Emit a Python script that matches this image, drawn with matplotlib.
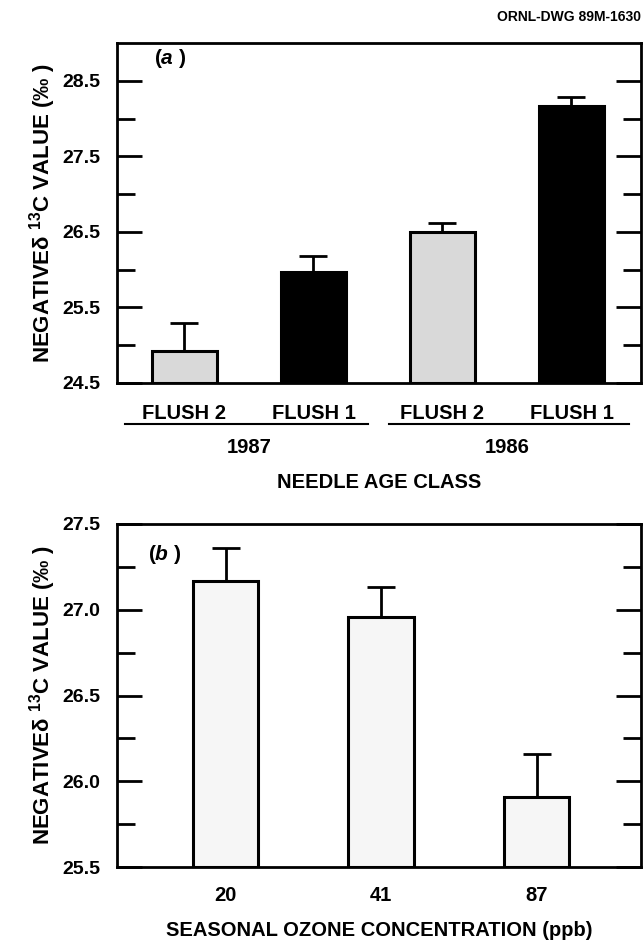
import numpy as np
import matplotlib
matplotlib.use('Agg')
import matplotlib.pyplot as plt
import matplotlib.transforms as mtransforms

# panel (a) data
age_classes = ['FLUSH 2', 'FLUSH 1', 'FLUSH 2', 'FLUSH 1']
years = ['1987', '1986']
d13c_a = [24.92, 25.97, 26.50, 28.17]
err_a = [0.37, 0.21, 0.12, 0.12]
colors_a = ['#d9d9d9', 'black', '#d9d9d9', 'black']

# panel (b) data
ozone = ['20', '41', '87']
d13c_b = [27.17, 26.96, 25.91]
err_b = [0.19, 0.17, 0.25]

plt.rcParams['font.family'] = ['Liberation Sans', 'DejaVu Sans']
plt.rcParams['font.weight'] = 'bold'
plt.rcParams['axes.labelweight'] = 'bold'
plt.rcParams['mathtext.fontset'] = 'custom'
plt.rcParams['mathtext.rm'] = 'Liberation Sans:bold'
plt.rcParams['mathtext.it'] = 'Liberation Sans:italic:bold'
plt.rcParams['mathtext.bf'] = 'Liberation Sans:bold'
plt.rcParams['mathtext.default'] = 'rm'

fig = plt.figure(figsize=(6.43, 9.41), dpi=100)
W, H = 643, 941
ax1 = fig.add_axes([117 / W, 1 - 383 / H, 524 / W, 340 / H])
ax2 = fig.add_axes([117 / W, 1 - 867 / H, 524 / W, 343 / H])

ylab = r'NEGATIVEδ $^{13}$C VALUE (‰ )'


def style_axes(ax):
    for s in ax.spines.values():
        s.set_linewidth(2)
    ax.tick_params(axis='y', which='both', direction='in', left=True, right=True,
                   width=2, labelsize=14, pad=12)
    ax.tick_params(axis='y', which='major', length=18)
    ax.tick_params(axis='y', which='minor', length=13)
    ax.tick_params(axis='x', length=0, labelsize=14.5)
    ax.set_ylabel(ylab, fontsize=16, fontweight='bold', labelpad=3)


# ---- (a)
xa = np.arange(len(d13c_a))
vals = np.array(d13c_a)
ax1.bar(xa, vals - 24.5, bottom=24.5, width=0.51, color=colors_a,
        edgecolor='black', linewidth=2.2, zorder=3)
ax1.errorbar(xa, vals, yerr=[np.zeros(len(err_a)), err_a], fmt='none',
             ecolor='black', elinewidth=2, capsize=10, capthick=2, zorder=2)
ax1.set_xlim(-0.523, 3.539)
ax1.set_ylim(24.5, 29.0)
ax1.set_yticks([24.5, 25.5, 26.5, 27.5, 28.5])
ax1.set_yticks([25.0, 26.0, 27.0, 28.0], minor=True)
ax1.set_xticks(xa)
ax1.set_xticklabels(age_classes)
style_axes(ax1)
ax1.tick_params(axis='x', pad=15)
ax1.text(154 / W, 1 - 58 / H, r'($\it{a}$ )', transform=fig.transFigure,
         fontsize=15, va='center', ha='left')

trans = mtransforms.blended_transform_factory(ax1.transData, ax1.transAxes)
for (x0, x1) in [(-0.46, 1.42), (1.585, 3.446)]:
    ax1.plot([x0, x1], [-0.121, -0.121], color='black', lw=1.5,
             transform=trans, clip_on=False)
for i, yr in enumerate(years):
    ax1.text(2 * i + 0.5, -0.191, yr, transform=trans, ha='center',
             va='center', fontsize=14.5)
ax1.text(0.5, -0.294, 'NEEDLE AGE CLASS', transform=ax1.transAxes,
         ha='center', va='center', fontsize=14.5)

# ---- (b)
xb = np.arange(len(d13c_b))
vals_b = np.array(d13c_b)
ax2.bar(xb, vals_b - 25.5, bottom=25.5, width=0.42, color='#f6f6f6',
        edgecolor='black', linewidth=2.2, zorder=3)
ax2.errorbar(xb, vals_b, yerr=[np.zeros(len(err_b)), err_b], fmt='none',
             ecolor='black', elinewidth=2, capsize=10, capthick=2, zorder=2)
ax2.set_xlim(-0.698, 2.672)
ax2.set_ylim(25.5, 27.5)
ax2.set_yticks([25.5, 26.0, 26.5, 27.0, 27.5])
ax2.set_yticks([25.75, 26.25, 26.75, 27.25], minor=True)
ax2.set_yticklabels(['25.5', '26.0', '26.5', '27.0', '27.5'])
ax2.set_xticks(xb)
ax2.set_xticklabels(ozone)
style_axes(ax2)
ax2.tick_params(axis='x', pad=14)
ax2.text(148 / W, 1 - 555 / H, r'($\it{b}$ )', transform=fig.transFigure,
         fontsize=15, va='center', ha='left')
ax2.text(0.5, -0.184, 'SEASONAL OZONE CONCENTRATION (ppb)',
         transform=ax2.transAxes, ha='center', va='center', fontsize=14.5)

fig.text(641 / W, 1 - 17 / H, 'ORNL-DWG 89M-1630', ha='right', va='center',
         fontsize=10)

fig.savefig('out.png', dpi=100)
